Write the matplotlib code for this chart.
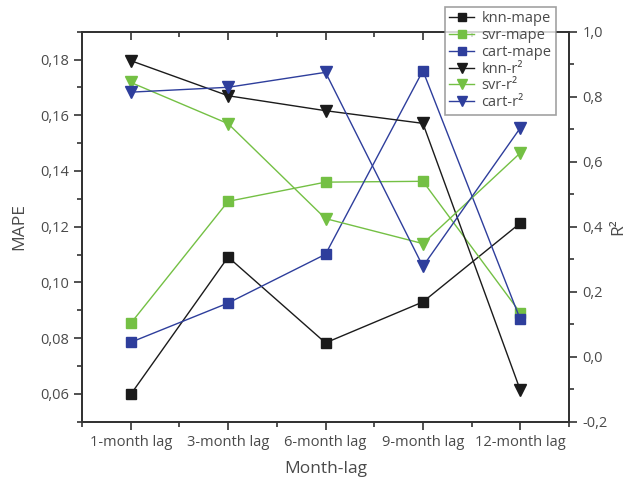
import matplotlib
matplotlib.use("Agg")
import matplotlib.pyplot as plt
from matplotlib.ticker import FuncFormatter, MultipleLocator

plt.rcParams['font.family'] = ['Open Sans', 'DejaVu Sans']

lags = ["1-month lag", "3-month lag", "6-month lag", "9-month lag", "12-month lag"]

knn_mape = [0.0598, 0.1091, 0.0783, 0.0930, 0.1213]
svr_mape = [0.0853, 0.1291, 0.1360, 0.1363, 0.0891]
cart_mape = [0.0785, 0.0926, 0.1101, 0.1760, 0.0867]

knn_r2 = [0.911, 0.803, 0.757, 0.718, -0.103]
svr_r2 = [0.844, 0.717, 0.425, 0.348, 0.627]
cart_r2 = [0.814, 0.829, 0.875, 0.278, 0.704]

BLACK = "#1b1b1b"
GREEN = "#74c044"
BLUE = "#2e3e9c"
TXT = "#4a4a4a"
AX = "#333333"

x = list(range(1, len(lags) + 1))

fig = plt.figure(figsize=(6.29, 4.82), dpi=100)
ax = fig.add_axes([0.1304, 0.1251, 0.7742, 0.8091])
ax2 = ax.twinx()

handles = []
for vals, col, name in [(knn_mape, BLACK, "knn-mape"), (svr_mape, GREEN, "svr-mape"),
                        (cart_mape, BLUE, "cart-mape")]:
    h, = ax.plot(x, vals, color=col, lw=1.0, marker="s", ms=7.5,
                 mec=col, mfc=col, label=name)
    handles.append(h)
for vals, col, name in [(knn_r2, BLACK, "knn-r²"), (svr_r2, GREEN, "svr-r²"),
                        (cart_r2, BLUE, "cart-r²")]:
    h, = ax2.plot(x, vals, color=col, lw=1.0, marker="v", ms=9,
                  mec=col, mfc=col, label=name)
    handles.append(h)

ax.set_xlim(0.5, 5.5)
ax.set_ylim(0.05, 0.19)
ax2.set_ylim(-0.2, 1.0)

ax.set_xticks(x)
ax.set_xticklabels(lags)
ax.xaxis.set_minor_locator(MultipleLocator(0.5))
ax.yaxis.set_major_locator(MultipleLocator(0.02))
ax.yaxis.set_minor_locator(MultipleLocator(0.01))
ax2.yaxis.set_major_locator(MultipleLocator(0.2))
ax2.yaxis.set_minor_locator(MultipleLocator(0.1))

ax.yaxis.set_major_formatter(FuncFormatter(lambda v, p: f"{v:.2f}".replace(".", ",")))
ax2.yaxis.set_major_formatter(FuncFormatter(lambda v, p: f"{v:.1f}".replace(".", ",")))

for a in (ax, ax2):
    for s in a.spines.values():
        s.set_color(AX)
        s.set_linewidth(1.3)

ax.tick_params(axis="both", which="major", direction="out", length=6, width=1.2,
               color=AX, labelcolor=TXT, labelsize=10.5)
ax.tick_params(axis="both", which="minor", direction="out", length=3.5, width=1.2, color=AX)
ax.tick_params(axis="x", which="both", top=True)
ax2.tick_params(axis="y", which="major", direction="out", length=6, width=1.2,
                color=AX, labelcolor=TXT, labelsize=10.5)
ax2.tick_params(axis="y", which="minor", direction="out", length=3.5, width=1.2, color=AX)

# top ticks point into the plot
for t in ax.xaxis.get_major_ticks() + ax.xaxis.get_minor_ticks():
    t.tick2line.set_marker(matplotlib.lines.TICKDOWN)

ax.set_ylabel("MAPE", fontsize=12.5, color=TXT, labelpad=9)
ax2.set_ylabel("R²", fontsize=12.5, color=TXT, labelpad=2)
ax.set_xlabel("Month-lag", fontsize=12.5, color=TXT, labelpad=8)

leg = fig.legend(handles=handles, loc="upper left", bbox_to_anchor=(445 / 629, 1 - 7 / 482),
                 fontsize=10.5, frameon=True, fancybox=False, handlelength=1.7,
                 handletextpad=0.5, labelspacing=0.12, borderpad=0.3, borderaxespad=0,
                 markerscale=0.8)
leg.get_frame().set_edgecolor("#8a8a8a")
leg.get_frame().set_linewidth(1.2)
for t in leg.get_texts():
    t.set_color(TXT)

fig.savefig("out.png", dpi=100)
